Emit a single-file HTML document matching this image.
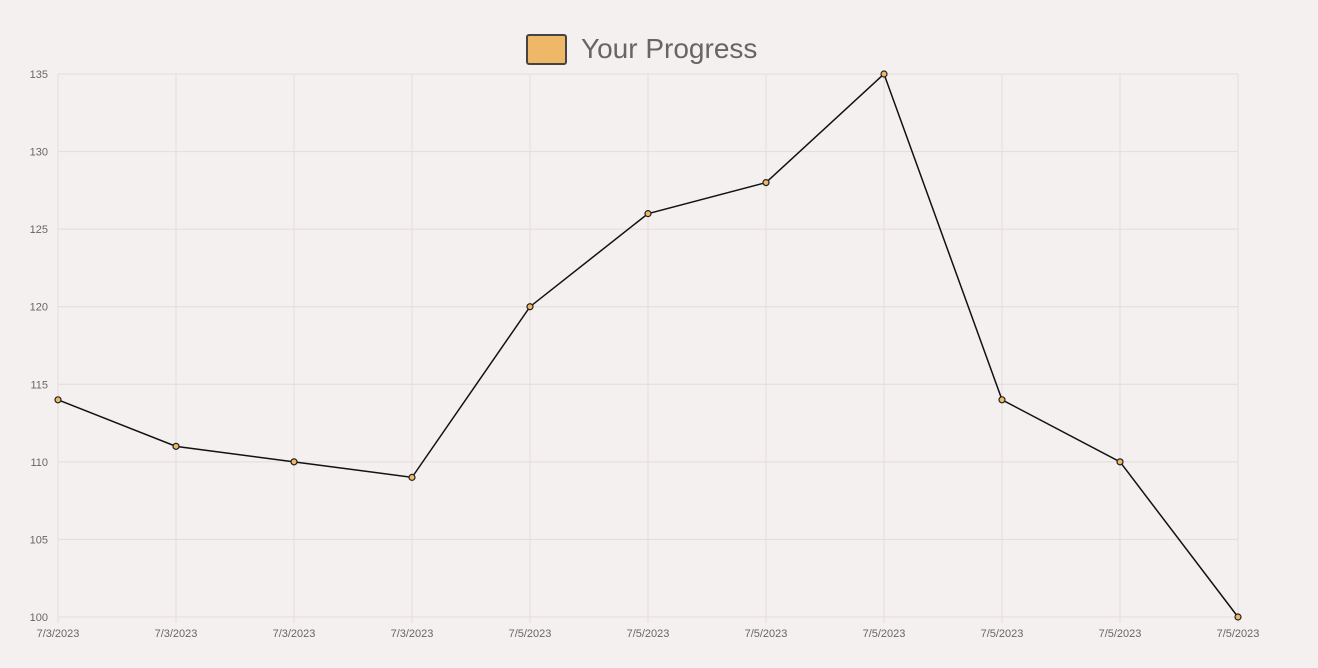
<!DOCTYPE html>
<html><head><meta charset="utf-8"><style>
html,body{margin:0;padding:0;background:#f5f0f0;}
svg{display:block;font-family:"Liberation Sans",sans-serif;}
</style></head><body>
<svg id="chart" width="1318" height="668">
<rect x="527" y="35" width="39" height="29" fill="#eeb868" stroke="#444" stroke-width="2" rx="2"/>
<text x="581" y="58" font-size="28" fill="#666">Your Progress</text>
<g id="grid"></g><g id="axes"></g><g id="series"></g>
</svg>
<script>
const categories = ["7/3/2023","7/3/2023","7/3/2023","7/3/2023","7/5/2023","7/5/2023","7/5/2023","7/5/2023","7/5/2023","7/5/2023","7/5/2023"];
const values = [114,111,110,109,120,126,128,135,114,110,100];
const yTicks = [100,105,110,115,120,125,130,135];
const NS="http://www.w3.org/2000/svg";
const X0=58,X1=1238,Y0=617,Y1=74,YMIN=100,YMAX=135;
const xs=i=>X0+(X1-X0)*i/(categories.length-1);
const ys=v=>Y0-(v-YMIN)/(YMAX-YMIN)*(Y0-Y1);
function mk(t,a,p){const e=document.createElementNS(NS,t);for(const k in a)e.setAttribute(k,a[k]);p.appendChild(e);return e;}
const grid=document.getElementById('grid'),axes=document.getElementById('axes'),ser=document.getElementById('series');
yTicks.forEach(v=>{
 const l=mk('line',{x1:X0,x2:X1,y1:ys(v),y2:ys(v),stroke:'#e2dcdc','stroke-width':1},grid);
 
 
 const t=mk('text',{x:48,y:ys(v)+4,'font-size':11,fill:'#666','text-anchor':'end'},axes);
 t.textContent=v;
 
 
});
categories.forEach((c,i)=>{
 const l=mk('line',{x1:xs(i),x2:xs(i),y1:Y1,y2:Y0+6,stroke:'#e2dcdc','stroke-width':1},grid);
 
 
 const t=mk('text',{x:xs(i),y:637,'font-size':11,fill:'#666','text-anchor':'middle'},axes);
 t.textContent=c;
 
 
});
const p=mk('polyline',{points:values.map((v,i)=>xs(i)+','+ys(v)).join(' '),fill:'none',stroke:'#111','stroke-width':1.5},ser);


values.forEach((v,i)=>{
 const c=mk('circle',{cx:xs(i),cy:ys(v),r:3,fill:'#eeb868',stroke:'#222','stroke-width':1.2},ser);
 
 
});
</script>
</body></html>
